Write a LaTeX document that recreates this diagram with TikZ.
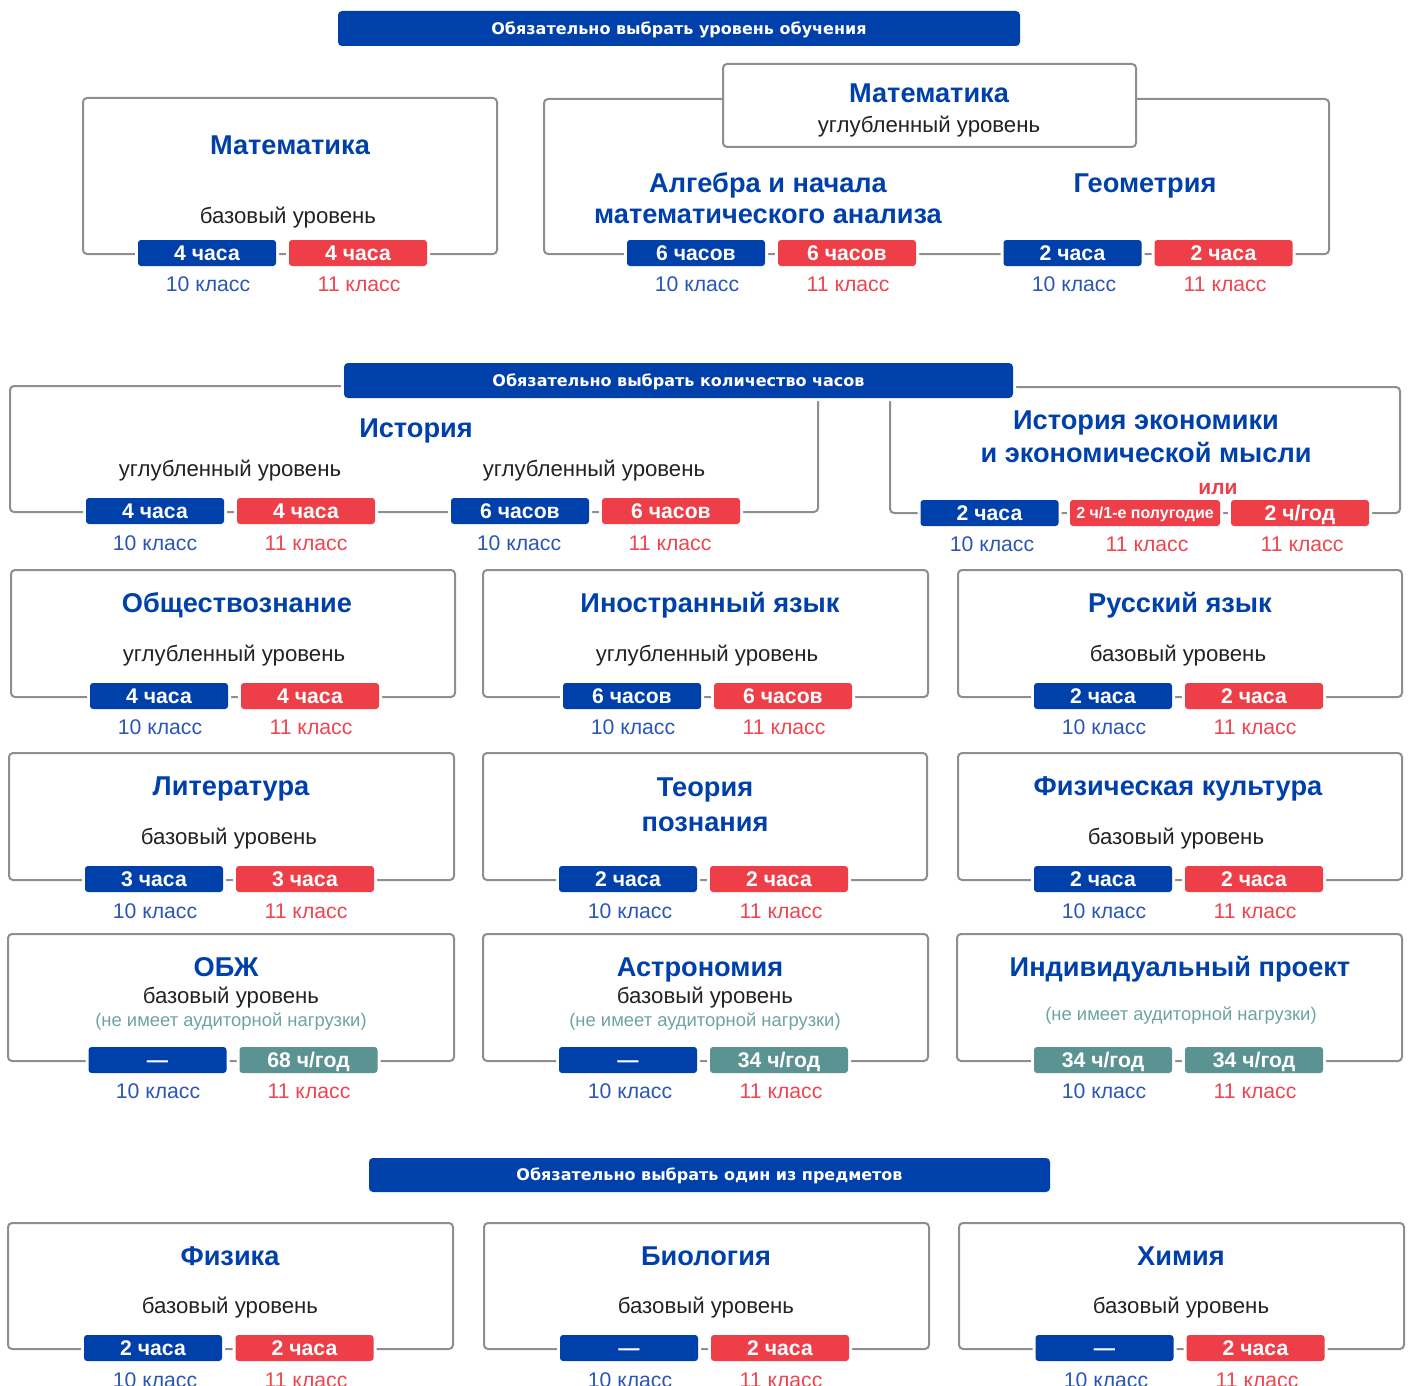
\documentclass[tikz,border=0pt]{standalone}
\usepackage{fontspec}
\setmainfont{Liberation Sans}
\newfontfamily\hdrfont{DejaVu Sans}
\definecolor{cblue}{HTML}{0040AA}
\definecolor{cred}{HTML}{EE3F48}
\definecolor{cteal}{HTML}{5A9391}
\definecolor{cnote}{HTML}{6DA3A1}
\definecolor{lblue}{HTML}{2A56B5}
\definecolor{lred}{HTML}{EE4550}
\definecolor{cgray}{HTML}{8E8E8E}
\definecolor{ctext}{HTML}{222222}
\begin{document}
\begin{tikzpicture}[x=0.5pt,y=-0.5pt,
  box/.style={draw=cgray, line width=1pt, rounded corners=2pt},
  hdr/.style={fill=cblue, rounded corners=2pt, preaction={draw=white, line width=3pt}, text=white,
    font=\hdrfont\bfseries\fontsize{8}{9}\selectfont, inner sep=0pt, minimum height=17.5pt, text height=5.8pt, text depth=0pt},
  pill/.style={rounded corners=1.5pt, preaction={draw=white, line width=3pt}, minimum width=69pt,
    minimum height=13pt, inner sep=0pt, text=white, font=\bfseries\fontsize{10.6}{12}\selectfont,
    text height=7.5pt, text depth=0pt},
  pb/.style={pill, fill=cblue}, pr/.style={pill, fill=cred}, pt/.style={pill, fill=cteal},
  ttl/.style={text=cblue, font=\bfseries\fontsize{13.6}{15}\selectfont, inner sep=0pt, text height=9.6pt, text depth=0pt},
  lvl/.style={text=ctext, font=\fontsize{11.1}{12}\selectfont, inner sep=0pt, text height=5.8pt, text depth=0pt},
  note/.style={text=cnote, font=\fontsize{9.2}{11}\selectfont, inner sep=0pt, text height=4.8pt, text depth=0pt},
  lb/.style={text=lblue, font=\fontsize{10.6}{12}\selectfont, inner sep=0pt, text height=7.5pt, text depth=0pt},
  lr/.style={lb, text=lred}]
\useasboundingbox (0,0) rectangle (1408,1386);

% ---------- Section 1 ----------
\draw[box] (83,98) rectangle (497,254);
\node[ttl] (mbT) at (290,145) {Математика};
\node[lvl] (mbL) at (288,218) {базовый уровень};
\node[pb] (mbA) at (207,253) {4 часа};
\node[pr] (mbB) at (358,253) {4 часа};
\node[lb] (mbA1) at (208,284) {10 класс};
\node[lr] (mbB1) at (359,284) {11 класс};

\draw[box] (544,99) rectangle (1329,254);
\draw[box, fill=white] (723,64) rectangle (1136,147);
\node[ttl] (muT) at (929,93) {Математика};
\node[lvl] (muL) at (929,127) {углубленный уровень};
\node[ttl] (alT1) at (768,183) {Алгебра и начала};
\node[ttl] (alT2) at (768,214) {математического анализа};
\node[ttl] (geT) at (1145,183) {Геометрия};
\node[pb] (alA) at (696,253) {6 часов};
\node[pr] (alB) at (847,253) {6 часов};
\node[pb] (geA) at (1072.5,253) {2 часа};
\node[pr] (geB) at (1223.5,253) {2 часа};
\node[lb] (alA1) at (697,284) {10 класс};
\node[lr] (alB1) at (848,284) {11 класс};
\node[lb] (geA1) at (1074,284) {10 класс};
\node[lr] (geB1) at (1225,284) {11 класс};

\node[hdr, minimum width=341pt] (h1) at (679,28.5) {Обязательно выбрать уровень обучения};

% ---------- Section 2 ----------
\draw[box] (10,386) rectangle (818,512);
\draw[box] (890,387) rectangle (1400,513);
\node[hdr, minimum width=334.5pt] (h2) at (678.5,380.5) {Обязательно выбрать количество часов};

\node[ttl] (hiT) at (416,428) {История};
\node[lvl] (hiL1) at (230,471) {углубленный уровень};
\node[lvl] (hiL2) at (594,471) {углубленный уровень};
\node[pb] (hiA) at (155,511) {4 часа};
\node[pr] (hiB) at (306,511) {4 часа};
\node[pb] (hiC) at (520,511) {6 часов};
\node[pr] (hiD) at (671,511) {6 часов};
\node[lb] (hiA1) at (155,543) {10 класс};
\node[lr] (hiB1) at (306,543) {11 класс};
\node[lb] (hiC1) at (519,543) {10 класс};
\node[lr] (hiD1) at (670,543) {11 класс};

\node[ttl] (ecT1) at (1146,420) {История экономики};
\node[ttl] (ecT2) at (1146,453) {и экономической мысли};
\node[text=cred, font=\bfseries\fontsize{10.5}{12}\selectfont, inner sep=0pt, text height=5.4pt, text depth=0pt] (ili) at (1218,489) {или};
\node[pb] (ecA) at (989.5,513) {2 часа};
\node[pr, minimum width=75pt, font=\bfseries\fontsize{8}{10}\selectfont, text height=5.8pt] (ecB) at (1145,513) {2 ч/1-е полугодие};
\node[pr] (ecC) at (1300,513) {2 ч/год};
\node[lb] (ecA1) at (992,544) {10 класс};
\node[lr] (ecB1) at (1147,544) {11 класс};
\node[lr] (ecC1) at (1302,544) {11 класс};

% ---------- Row 3 ----------
\draw[box] (11,570) rectangle (455,697);
\draw[box] (483,570) rectangle (928,697);
\draw[box] (958,570) rectangle (1402,697);
\node[ttl] (obT) at (237,603) {Обществознание};
\node[lvl] (obL) at (234,656) {углубленный уровень};
\node[pb] (obA) at (159,696) {4 часа};
\node[pr] (obB) at (310,696) {4 часа};
\node[lb] (obA1) at (160,727) {10 класс};
\node[lr] (obB1) at (311,727) {11 класс};
\node[ttl] (inT) at (710,603) {Иностранный язык};
\node[lvl] (inL) at (707,656) {углубленный уровень};
\node[pb] (inA) at (632,696) {6 часов};
\node[pr] (inB) at (783,696) {6 часов};
\node[lb] (inA1) at (633,727) {10 класс};
\node[lr] (inB1) at (784,727) {11 класс};
\node[ttl] (ruT) at (1180,603) {Русский язык};
\node[lvl] (ruL) at (1178,656) {базовый уровень};
\node[pb] (ruA) at (1103,696) {2 часа};
\node[pr] (ruB) at (1254,696) {2 часа};
\node[lb] (ruA1) at (1104,727) {10 класс};
\node[lr] (ruB1) at (1255,727) {11 класс};

% ---------- Row 4 ----------
\draw[box] (9,753) rectangle (454,880);
\draw[box] (483,753) rectangle (927,880);
\draw[box] (958,753) rectangle (1402,880);
\node[ttl] (liT) at (231,786) {Литература};
\node[lvl] (liL) at (229,839) {базовый уровень};
\node[pb] (liA) at (154,879) {3 часа};
\node[pr] (liB) at (305,879) {3 часа};
\node[lb] (liA1) at (155,911) {10 класс};
\node[lr] (liB1) at (306,911) {11 класс};
\node[ttl] (tpT1) at (705,787) {Теория};
\node[ttl] (tpT2) at (705,822) {познания};
\node[pb] (tpA) at (628,879) {2 часа};
\node[pr] (tpB) at (779,879) {2 часа};
\node[lb] (tpA1) at (630,911) {10 класс};
\node[lr] (tpB1) at (781,911) {11 класс};
\node[ttl] (fkT) at (1178,786) {Физическая культура};
\node[lvl] (fkL) at (1176,839) {базовый уровень};
\node[pb] (fkA) at (1103,879) {2 часа};
\node[pr] (fkB) at (1254,879) {2 часа};
\node[lb] (fkA1) at (1104,911) {10 класс};
\node[lr] (fkB1) at (1255,911) {11 класс};

% ---------- Row 5 ----------
\draw[box] (8,934) rectangle (454,1061);
\draw[box] (483,934) rectangle (928,1061);
\draw[box] (957,934) rectangle (1402,1061);
\node[ttl] (obzT) at (226,967) {ОБЖ};
\node[lvl] (obzL) at (231,998) {базовый уровень};
\node[note] (obzN) at (231,1022) {(не имеет аудиторной нагрузки)};
\node[pb] (obzA) at (157.5,1060) {—};
\node[pt] (obzB) at (308.5,1060) {68 ч/год};
\node[lb] (obzA1) at (158,1091) {10 класс};
\node[lr] (obzB1) at (309,1091) {11 класс};
\node[ttl] (asT) at (700,967) {Астрономия};
\node[lvl] (asL) at (705,998) {базовый уровень};
\node[note] (asN) at (705,1022) {(не имеет аудиторной нагрузки)};
\node[pb] (asA) at (628,1060) {—};
\node[pt] (asB) at (779,1060) {34 ч/год};
\node[lb] (asA1) at (630,1091) {10 класс};
\node[lr] (asB1) at (781,1091) {11 класс};
\node[ttl] (ipT) at (1180,967) {Индивидуальный проект};
\node[note] (ipN) at (1181,1016) {(не имеет аудиторной нагрузки)};
\node[pt] (ipA) at (1103,1060) {34 ч/год};
\node[pt] (ipB) at (1254,1060) {34 ч/год};
\node[lb] (ipA1) at (1104,1091) {10 класс};
\node[lr] (ipB1) at (1255,1091) {11 класс};

% ---------- Section 3 ----------
\node[hdr, minimum width=340.5pt, minimum height=17pt] (h3) at (709.5,1175) {Обязательно выбрать один из предметов};

\draw[box] (8,1223) rectangle (453,1349);
\draw[box] (484,1223) rectangle (929,1349);
\draw[box] (959,1223) rectangle (1404,1349);
\node[ttl] (fiT) at (230,1256) {Физика};
\node[lvl] (fiL) at (230,1308) {базовый уровень};
\node[pb] (fiA) at (153,1348) {2 часа};
\node[pr] (fiB) at (304.5,1348) {2 часа};
\node[lb] (fiA1) at (155,1380) {10 класс};
\node[lr] (fiB1) at (306,1380) {11 класс};
\node[ttl] (biT) at (706,1256) {Биология};
\node[lvl] (biL) at (706,1308) {базовый уровень};
\node[pb] (biA) at (629,1348) {—};
\node[pr] (biB) at (780,1348) {2 часа};
\node[lb] (biA1) at (630,1380) {10 класс};
\node[lr] (biB1) at (781,1380) {11 класс};
\node[ttl] (hiMT) at (1181,1256) {Химия};
\node[lvl] (hiML) at (1181,1308) {базовый уровень};
\node[pb] (hiMA) at (1104.5,1348) {—};
\node[pr] (hiMB) at (1255.5,1348) {2 часа};
\node[lb] (hiMA1) at (1106,1380) {10 класс};
\node[lr] (hiMB1) at (1257,1380) {11 класс};
\end{tikzpicture}
\end{document}
